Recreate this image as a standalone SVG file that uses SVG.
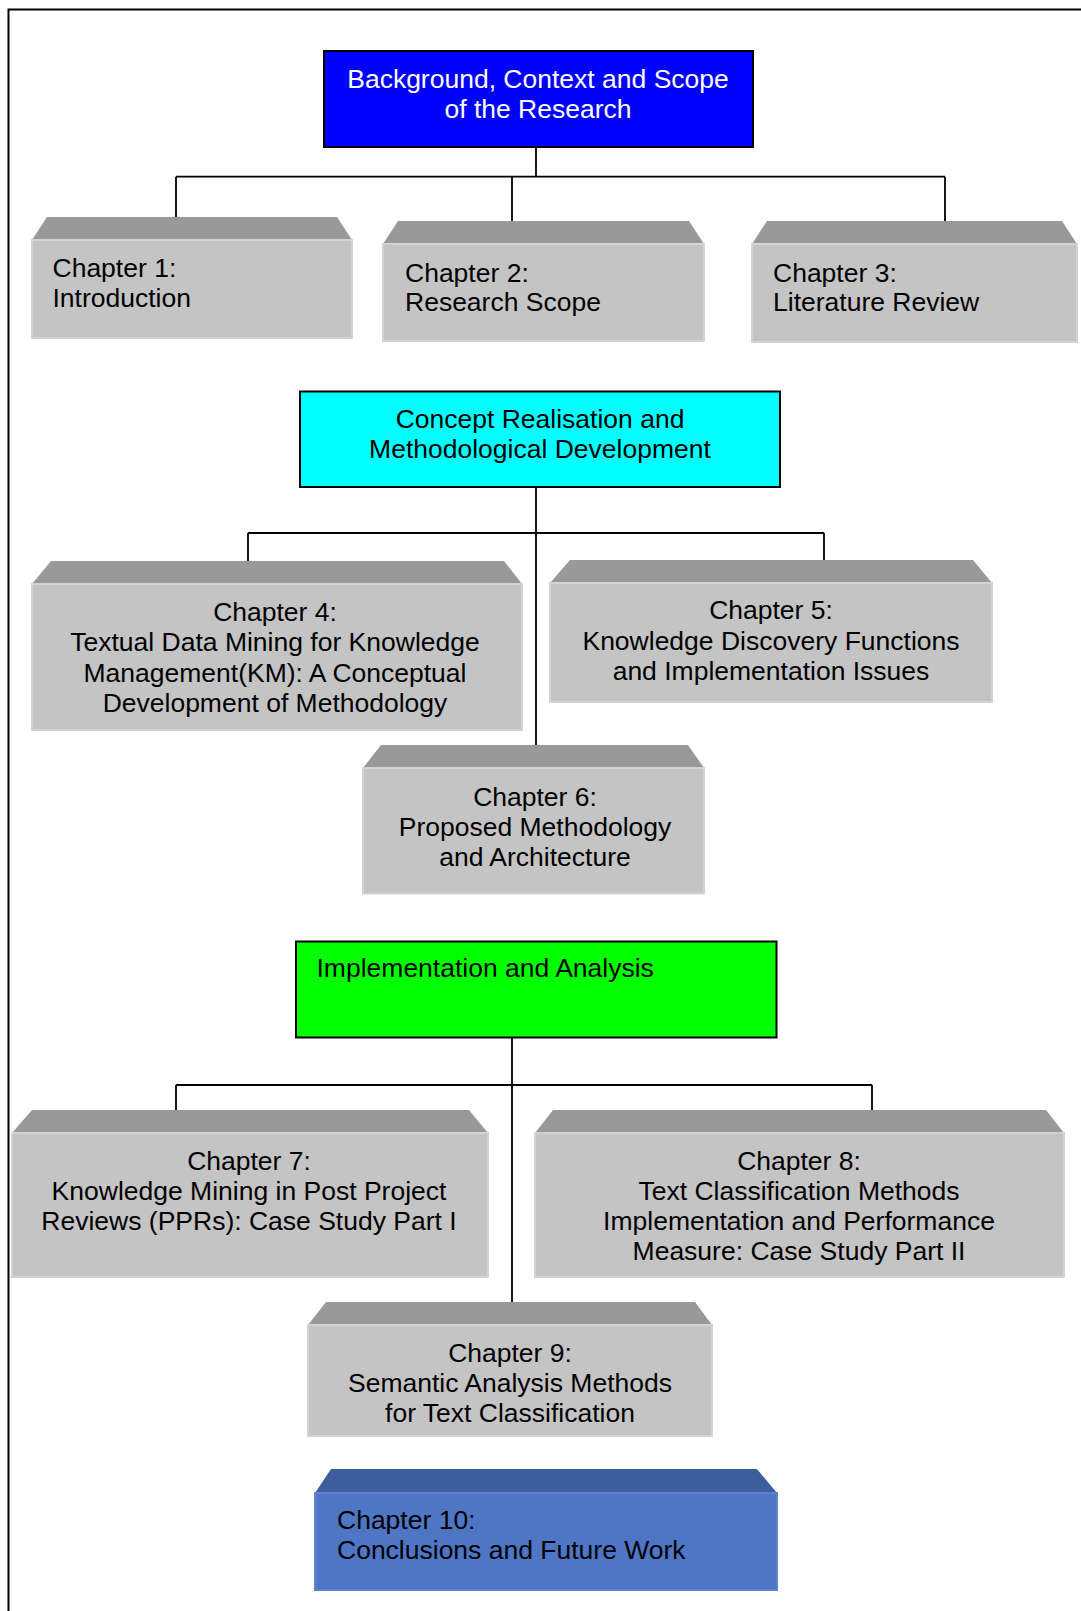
<svg xmlns="http://www.w3.org/2000/svg" width="1081" height="1611" viewBox="0 0 1081 1611">
  <style>
    text { font-family: "Liberation Sans", Arial, sans-serif; font-size: 26.5px; fill: #000; }
    .c { text-anchor: middle; }
    .w { fill: #fff; }
    .head { stroke: #000; stroke-width: 2; }
    .top { fill: #999999; }
    .front { fill: #c4c4c4; stroke: #d3d3d3; stroke-width: 2; }
    .top10 { fill: #3e5d9c; }
    .front10 { fill: #4e76c4; stroke: #5b83d0; stroke-width: 2; }
    .link { fill: none; stroke: #000; stroke-width: 1.8; }
  </style>

  <rect width="1081" height="1611" fill="#fff"/>
  <!-- page frame: top and left rules -->
  <path d="M8.5 1611 V9.5 H1081" fill="none" stroke="#000" stroke-width="2"/>

  <!-- connectors -->
  <g id="connectors">
    <path class="link" d="M536 147 V176.7 M176 176.7 H945 M176 176.7 V217 M512 176.7 V221 M945 176.7 V221"/>
    <path class="link" d="M536 487 V745 M248 533 H824 M248 533 V561 M824 533 V560"/>
    <path class="link" d="M512 1037 V1302 M176 1085 H872 M176 1085 V1110 M872 1085 V1110"/>
  </g>

  <!-- section headers -->
  <g id="part1">
    <rect class="head" x="324" y="51" width="429" height="96" fill="#0000ff"/>
    <text class="c w" x="538" y="87.5">Background, Context and Scope</text>
    <text class="c w" x="538" y="117.5">of the Research</text>
  </g>
  <g id="part2">
    <rect class="head" x="300" y="391.5" width="480" height="95.5" fill="#00ffff"/>
    <text class="c" x="540" y="427.5">Concept Realisation and</text>
    <text class="c" x="540" y="457.5">Methodological Development</text>
  </g>
  <g id="part3">
    <rect class="head" x="296" y="941.5" width="480.5" height="96" fill="#00ff00"/>
    <text x="316.5" y="977">Implementation and Analysis</text>
  </g>

  <!-- chapter boxes -->
  <g id="ch1">
    <polygon class="top" points="47,217 337,217 352,240 32,240"/>
    <rect class="front" x="32" y="240" width="320" height="98"/>
    <text x="52.5" y="276.5">Chapter 1:</text>
    <text x="52.5" y="307">Introduction</text>
  </g>
  <g id="ch2">
    <polygon class="top" points="398,221 689,221 704,244 383,244"/>
    <rect class="front" x="383" y="244" width="321" height="97"/>
    <text x="405" y="281.5">Chapter 2:</text>
    <text x="405" y="311.3">Research Scope</text>
  </g>
  <g id="ch3">
    <polygon class="top" points="767,221 1062,221 1077,244 752,244"/>
    <rect class="front" x="752" y="244" width="325" height="98"/>
    <text x="773" y="281.5">Chapter 3:</text>
    <text x="773" y="311.3">Literature Review</text>
  </g>
  <g id="ch4">
    <polygon class="top" points="51,561 504,561 522,584 32,584"/>
    <rect class="front" x="32" y="584" width="490" height="146"/>
    <text class="c" x="275" y="620.5">Chapter 4:</text>
    <text class="c" x="275" y="651">Textual Data Mining for Knowledge</text>
    <text class="c" x="275" y="681.5">Management(KM): A Conceptual</text>
    <text class="c" x="275" y="712">Development of Methodology</text>
  </g>
  <g id="ch5">
    <polygon class="top" points="570,560 973,560 992,583 550,583"/>
    <rect class="front" x="550" y="583" width="442" height="119"/>
    <text class="c" x="771" y="619">Chapter 5:</text>
    <text class="c" x="771" y="649.5">Knowledge Discovery Functions</text>
    <text class="c" x="771" y="680">and Implementation Issues</text>
  </g>
  <g id="ch6">
    <polygon class="top" points="381,745 688,745 704,768 363,768"/>
    <rect class="front" x="363" y="768" width="341" height="125.5"/>
    <text class="c" x="535" y="806">Chapter 6:</text>
    <text class="c" x="535" y="836">Proposed Methodology</text>
    <text class="c" x="535" y="866">and Architecture</text>
  </g>
  <g id="ch7">
    <polygon class="top" points="32,1110 469,1110 488,1133 12,1133"/>
    <rect class="front" x="12" y="1133" width="476" height="144"/>
    <text class="c" x="249" y="1169.5">Chapter 7:</text>
    <text class="c" x="249" y="1200">Knowledge Mining in Post Project</text>
    <text class="c" x="249" y="1230">Reviews (PPRs): Case Study Part I</text>
  </g>
  <g id="ch8">
    <polygon class="top" points="553,1110 1046,1110 1064,1133 535,1133"/>
    <rect class="front" x="535" y="1133" width="529" height="144"/>
    <text class="c" x="799" y="1169.5">Chapter 8:</text>
    <text class="c" x="799" y="1200">Text Classification Methods</text>
    <text class="c" x="799" y="1230">Implementation and Performance</text>
    <text class="c" x="799" y="1260">Measure: Case Study Part II</text>
  </g>
  <g id="ch9">
    <polygon class="top" points="326,1302 695,1302 712,1325 308,1325"/>
    <rect class="front" x="308" y="1325" width="404" height="111"/>
    <text class="c" x="510" y="1361.5">Chapter 9:</text>
    <text class="c" x="510" y="1392">Semantic Analysis Methods</text>
    <text class="c" x="510" y="1422">for Text Classification</text>
  </g>
  <g id="ch10">
    <polygon class="top10" points="331,1469 757,1469 777,1493 315,1493"/>
    <rect class="front10" x="315" y="1493" width="462" height="97"/>
    <text x="337" y="1529">Chapter 10:</text>
    <text x="337" y="1559">Conclusions and Future Work</text>
  </g>
</svg>
